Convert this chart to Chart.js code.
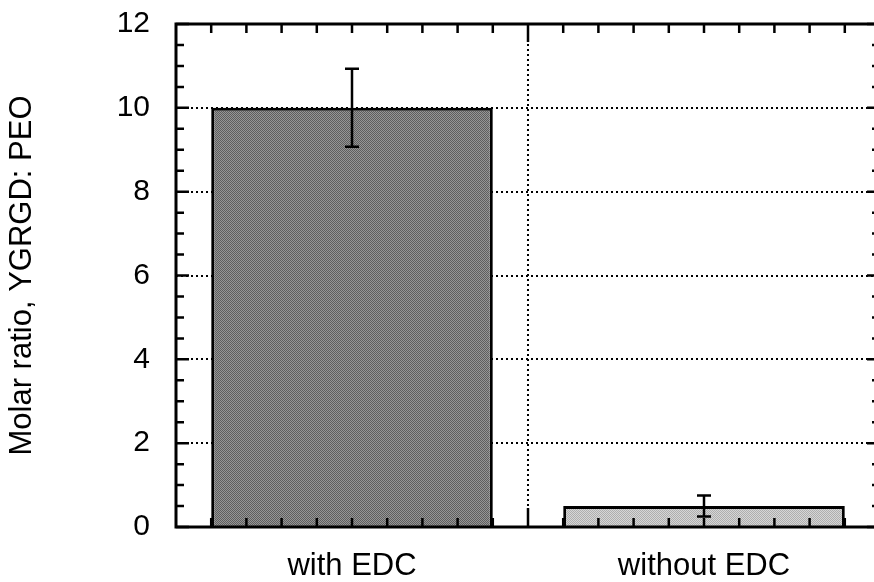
<!DOCTYPE html>
<html>
<head>
<meta charset="utf-8">
<script src="https://cdn.jsdelivr.net/npm/chart.js@4"></script>
<style>
  html, body { margin: 0; padding: 0; background: #fff; overflow: hidden; }
  #wrap { width: 884px; height: 582px; }
</style>
</head>
<body>
<div id="wrap"><canvas id="chart" width="884" height="582"></canvas></div>
<script>
// data
const groups = ['with EDC', 'without EDC'];
const molarRatio = [10, 0.5];
const errorSize = [0.93, 0.25];
const yTicks = [0, 2, 4, 6, 8, 10, 12];

const FONT = '"Liberation Sans", Arial, Helvetica, sans-serif';

// grainy grey fill for the bars
function grain(dark, light) {
    const p = document.createElement('canvas');
    p.width = 2; p.height = 2;
    const g = p.getContext('2d');
    g.fillStyle = light;
    g.fillRect(0, 0, 2, 2);
    g.fillStyle = dark;
    g.fillRect(0, 0, 1, 1);
    g.fillRect(1, 1, 1, 1);
    return g.createPattern(p, 'repeat');
}

// frame, inward ticks and error bars
const framePlugin = {
    id: 'frame',
    afterDatasetsDraw(chart) {
        const ctx = chart.ctx;
        const area = chart.chartArea;
        const x = chart.scales.x;
        const y = chart.scales.y;
        const cat = x.getPixelForValue(1) - x.getPixelForValue(0);
        const start = x.getPixelForValue(0) - cat / 2;

        ctx.save();
        ctx.strokeStyle = '#000';
        ctx.lineCap = 'butt';

        // error bars
        ctx.lineWidth = 2.5;
        molarRatio.forEach((v, i) => {
            const cx = x.getPixelForValue(i);
            const top = y.getPixelForValue(v + errorSize[i]);
            const bot = y.getPixelForValue(v - errorSize[i]);
            ctx.beginPath();
            ctx.moveTo(cx, top); ctx.lineTo(cx, bot);
            ctx.moveTo(cx - 7, top); ctx.lineTo(cx + 7, top);
            ctx.moveTo(cx - 7, bot); ctx.lineTo(cx + 7, bot);
            ctx.stroke();
        });

        // y ticks, left and right
        ctx.lineWidth = 2.5;
        ctx.beginPath();
        for (let v = 0; v <= 12; v += 0.5) {
            const py = y.getPixelForValue(v);
            const len = (v % 2 === 0) ? 13 : 8;
            ctx.moveTo(area.left, py); ctx.lineTo(area.left + len, py);
            ctx.moveTo(area.right, py); ctx.lineTo(area.right - len, py);
        }
        // x ticks, top and bottom
        for (let i = 0; i < groups.length; i++) {
            for (let k = 1; k < 10; k++) {
                const px = start + (i + k / 10) * cat;
                ctx.moveTo(px, area.top); ctx.lineTo(px, area.top + 9);
                ctx.moveTo(px, area.bottom); ctx.lineTo(px, area.bottom - 9);
            }
            if (i > 0) {
                const px = start + i * cat;
                ctx.moveTo(px, area.top); ctx.lineTo(px, area.top + 18);
                ctx.moveTo(px, area.bottom); ctx.lineTo(px, area.bottom - 19);
            }
        }
        ctx.stroke();

        // frame
        ctx.lineWidth = 3;
        ctx.strokeRect(area.left, area.top, area.right - area.left, area.bottom - area.top);
        ctx.restore();
    }
};

const ctx = document.getElementById('chart').getContext('2d');
new Chart(ctx, {
    type: 'bar',
    data: {
        labels: groups,
        datasets: [{
            data: molarRatio,
            backgroundColor: [grain('#5e5e5e', '#969696'), grain('#aeaeae', '#d6d6d6')],
            borderColor: '#000',
            borderWidth: 3,
            barPercentage: 0.8,
            categoryPercentage: 1.0
        }]
    },
    options: {
        responsive: false,
        animation: false,
        layout: { padding: { left: 0, top: 24, right: 4, bottom: 0 } },
        plugins: {
            legend: { display: false },
            tooltip: { enabled: false }
        },
        scales: {
            x: {
                offset: true,
                grid: {
                    offset: true,
                    color: '#000',
                    lineWidth: 2,
                    drawTicks: false
                },
                border: { display: false, dash: [2, 3] },
                ticks: {
                    color: '#000',
                    padding: 21,
                    font: { family: FONT, size: 31 }
                },
                afterFit(s) {
                    s.height = 55;
                    s.paddingLeft = 0;
                    s.paddingRight = 0;
                }
            },
            y: {
                min: 0,
                max: 12,
                afterBuildTicks(s) { s.ticks = yTicks.map(v => ({ value: v })); },
                grid: {
                    color: '#000',
                    lineWidth: 2,
                    drawTicks: false
                },
                border: { display: false, dash: [2, 3] },
                ticks: {
                    color: '#000',
                    padding: 26,
                    font: { family: FONT, size: 30 }
                },
                title: {
                    display: true,
                    text: 'Molar ratio, YGRGD: PEO',
                    color: '#000',
                    padding: { top: 7, bottom: 0 },
                    font: { family: FONT, size: 31, lineHeight: 1 }
                },
                afterFit(s) {
                    s.width = 176;
                    s.paddingTop = 0;
                    s.paddingBottom = 0;
                }
            }
        }
    },
    plugins: [framePlugin]
});
</script>
</body>
</html>
